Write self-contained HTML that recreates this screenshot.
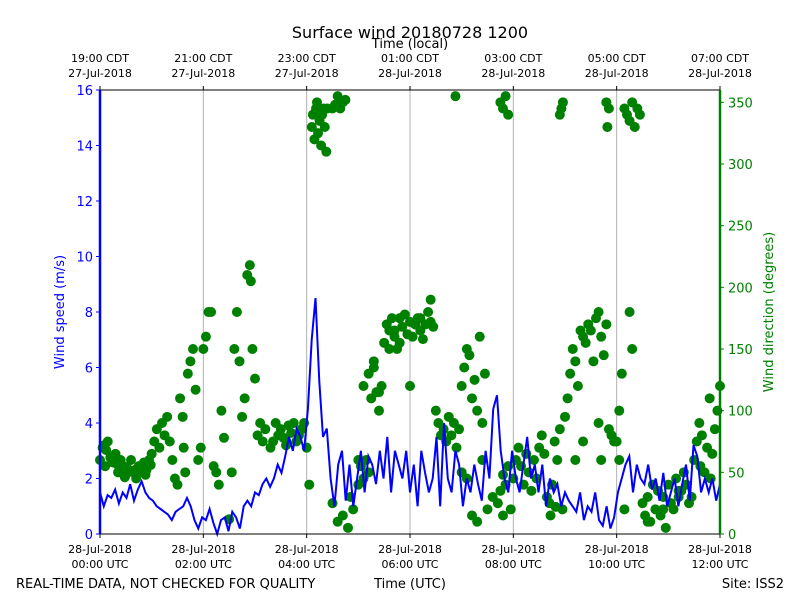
<!DOCTYPE html>
<html><head><meta charset="utf-8"><style>
body{margin:0;background:#fff;}
svg{display:block;font-family:"DejaVu Sans","Liberation Sans",sans-serif;}
</style></head><body>
<svg id="chart" width="800" height="600" xmlns="http://www.w3.org/2000/svg">
<text x="410" y="38" font-size="16" text-anchor="middle">Surface wind 20180728 1200</text>
<text x="410" y="48" font-size="13" text-anchor="middle">Time (local)</text>
<text x="0" y="0" font-size="13" fill="#0000ff" text-anchor="middle" transform="translate(64 312) rotate(-90)">Wind speed (m/s)</text>
<text x="0" y="0" font-size="13" fill="#008000" text-anchor="middle" transform="translate(773 312) rotate(-90)">Wind direction (degrees)</text>
<text x="16" y="588" font-size="13">REAL-TIME DATA, NOT CHECKED FOR QUALITY</text>
<text x="410" y="588" font-size="13" text-anchor="middle">Time (UTC)</text>
<text x="784" y="588" font-size="13" text-anchor="end">Site: ISS2</text>
<g id="grid"></g><g id="dirs"></g><g id="speed"></g><g id="axes"></g>
</svg>
<script>
const speedVals=[1.5,1.0,1.4,1.3,1.6,1.1,1.5,1.3,1.8,1.2,1.6,1.9,1.5,1.3,1.2,1.0,0.9,0.8,0.7,0.5,0.8,0.9,1.0,1.3,1.0,
0.5,0.2,0.6,0.5,0.9,0.4,0.0,0.5,0.6,0.1,0.8,0.6,0.2,1.0,1.2,1.0,1.5,1.4,1.8,2.0,1.7,2.0,2.5,2.2,2.8,3.5,3.0,3.8,
3.5,3.0,4.5,7.0,8.5,5.5,3.5,3.8,2.0,1.0,2.5,3.0,1.2,2.5,1.0,2.0,3.0,1.5,2.8,2.5,1.8,3.0,2.0,3.5,1.5,3.0,2.5,2.0,
3.0,1.5,2.5,1.0,3.0,2.2,1.5,2.0,3.5,1.0,4.0,2.0,1.5,3.0,2.5,1.0,2.0,1.5,2.5,1.8,1.2,3.0,2.0,4.5,5.0,3.0,2.0,1.5,
3.0,2.0,1.5,2.5,3.5,2.0,2.5,1.5,2.5,1.0,2.0,1.5,1.8,1.0,1.5,1.2,1.0,0.8,1.5,0.5,1.0,0.8,1.5,0.5,0.3,1.0,0.2,0.6,
1.5,2.0,2.5,2.8,1.5,2.5,2.0,1.8,2.5,1.6,2.0,1.2,2.2,1.0,1.5,2.0,1.0,1.8,2.5,1.2,3.2,2.8,1.5,2.0,1.5,2.0,1.2,1.8];
const dirHour=[0,.05,.1,.15,.2,.25,.3,.35,.4,.45,
.5,.55,.6,.65,.7,.75,.8,.85,.9,.95,
.12,.32,.52,.72,.08,.28,.48,.68,.88,.98,
1.0,1.05,1.1,1.15,1.2,1.25,1.3,1.35,1.4,1.45,
1.5,1.55,1.6,1.62,1.65,1.7,1.75,1.8,1.85,1.9,
1.95,2.0,2.05,2.1,2.15,2.2,2.25,2.3,2.35,2.4,
2.5,2.55,2.6,2.65,2.7,2.75,2.8,2.85,2.9,2.92,
2.95,3.0,3.05,3.1,3.15,3.2,3.3,3.35,3.4,3.45,
3.5,3.55,3.6,3.65,3.7,3.75,3.8,3.85,3.9,3.95,
4.0,4.05,4.1,4.12,4.15,4.18,4.2,4.22,4.25,4.28,
4.3,4.33,4.35,4.38,4.4,4.5,4.55,4.6,4.65,4.7,
4.75,4.5,4.6,4.7,4.8,4.85,4.9,5.0,5.05,5.1,
5.15,5.2,5.25,5.3,5.35,5.4,5.45,5.0,5.1,5.2,
5.3,5.4,5.5,5.55,5.6,5.65,5.7,5.75,5.8,5.85,
5.9,5.95,6.0,6.05,6.1,6.15,6.2,6.25,6.3,6.35,
6.4,6.45,5.6,5.8,6.0,6.2,6.4,5.7,6.1,6.5,
6.55,6.6,6.65,6.7,6.75,6.8,6.85,6.9,6.95,6.88,
7.0,7.05,7.1,7.15,7.2,7.25,7.3,7.35,7.4,7.45,
7.0,7.1,7.2,7.3,7.4,7.5,7.75,7.8,7.85,7.9,
7.75,7.8,7.6,7.7,7.8,7.85,7.9,7.95,8.0,8.05,
8.1,8.15,8.2,8.25,8.3,8.35,8.4,8.45,8.5,8.55,
8.6,8.65,8.7,8.75,8.8,8.85,8.9,8.95,8.72,8.82,
9.0,9.05,9.1,9.15,9.2,9.25,9.3,9.35,9.4,9.45,
9.5,9.55,9.6,9.65,9.7,9.75,9.8,9.85,9.9,9.95,
8.9,8.93,8.96,9.8,9.85,9.82,9.35,9.65,9.2,9.7,
10.0,10.05,10.1,10.15,10.2,10.25,10.3,10.35,10.4,10.45,
10.05,10.15,10.25,10.3,10.5,10.55,10.6,10.65,10.7,10.75,
10.8,10.85,10.9,10.95,11.0,11.05,11.1,11.15,11.2,11.25,
11.3,11.35,11.4,11.45,10.6,10.9,11.2,11.5,11.55,11.6,
11.65,11.7,11.75,11.8,11.85,11.9,11.95,12.0,11.62,11.82];
const dirDeg=[60,70,55,75,62,58,65,50,60,55,
48,52,60,50,45,55,50,58,52,60,
68,57,54,50,72,62,46,52,48,56,
65,75,85,70,90,80,95,75,60,45,
40,110,95,70,50,130,140,150,117,60,
70,150,160,180,180,55,50,40,100,78,
12,50,150,180,140,95,110,210,218,205,
150,126,80,90,75,85,70,75,90,80,
85,78,72,88,82,90,75,80,85,90,
70,40,330,340,320,345,350,325,335,315,
340,345,330,310,345,345,348,355,345,350,
352,25,10,15,5,30,20,40,55,120,
60,130,110,140,115,100,120,60,45,50,
135,115,155,170,165,175,160,150,175,168,
178,162,172,160,170,175,165,158,170,180,
172,168,150,155,120,175,190,165,170,100,
90,80,85,75,95,80,90,70,85,355,
120,135,150,145,110,125,100,160,90,130,
50,45,15,10,60,20,350,345,355,340,
35,48,30,25,15,40,55,20,45,60,
70,55,40,65,50,35,60,45,70,80,
65,30,25,40,75,60,85,20,15,22,
95,110,130,150,140,120,165,160,155,170,
165,140,175,180,160,145,170,85,80,75,
340,345,350,350,345,330,75,90,60,60,
75,100,130,345,340,335,350,330,345,340,
60,20,180,150,25,15,30,10,40,20,
35,15,30,5,40,25,20,45,30,35,
50,40,25,30,10,20,35,60,75,90,
80,50,70,110,65,85,100,120,55,45];
const leftTicks=[0,2,4,6,8,10,12,14,16];
const rightTicks=[0,50,100,150,200,250,300,350];
const bottomLabels=[["28-Jul-2018","00:00 UTC"],["28-Jul-2018","02:00 UTC"],["28-Jul-2018","04:00 UTC"],["28-Jul-2018","06:00 UTC"],["28-Jul-2018","08:00 UTC"],["28-Jul-2018","10:00 UTC"],["28-Jul-2018","12:00 UTC"]];
const topLabels=[["19:00 CDT","27-Jul-2018"],["21:00 CDT","27-Jul-2018"],["23:00 CDT","27-Jul-2018"],["01:00 CDT","28-Jul-2018"],["03:00 CDT","28-Jul-2018"],["05:00 CDT","28-Jul-2018"],["07:00 CDT","28-Jul-2018"]];
const X0=100,X1=720,Y0=534,Y1=90;
const xs=h=>X0+(X1-X0)*h/12;
const ySp=v=>Y0-(Y0-Y1)*v/16;
const yDir=d=>Y0-(Y0-Y1)*d/360;
const NS="http://www.w3.org/2000/svg";
function mk(tag,attrs,parent,txt){const e=document.createElementNS(NS,tag);for(const k in attrs)e.setAttribute(k,attrs[k]);if(txt!==undefined)e.textContent=txt;document.getElementById(parent).appendChild(e);return e;}
bottomLabels.forEach((l,i)=>{const x=xs(i*2);
 if(i>0&&i<6){const g=mk('line',{x1:x,x2:x,y1:Y1,y2:Y0,stroke:'#b0b0b0','stroke-width':1},'grid');
 
 }
 const t1=mk('text',{x:x,y:553,'font-size':11,'text-anchor':'middle'},'axes',l[0]);
 
 
 const t2=mk('text',{x:x,y:568,'font-size':11,'text-anchor':'middle'},'axes',l[1]);
 
 
 mk('line',{x1:x,x2:x,y1:Y0,y2:Y0+4,stroke:'#000'},'axes');
 mk('line',{x1:x,x2:x,y1:Y1,y2:Y1-4,stroke:'#000'},'axes');
 const t3=mk('text',{x:x,y:62,'font-size':11,'text-anchor':'middle'},'axes',topLabels[i][0]);
 
 
 const t4=mk('text',{x:x,y:77,'font-size':11,'text-anchor':'middle'},'axes',topLabels[i][1]);
 
 
});
dirHour.forEach((h,i)=>{const c=mk('circle',{cx:xs(h),cy:yDir(dirDeg[i]),r:5,fill:'#008000'},'dirs');
 
 });
const n=speedVals.length;
const pts=speedVals.map((v,i)=>xs(12*i/(n-1)).toFixed(1)+','+ySp(v).toFixed(1)).join(' ');
const pl=mk('polyline',{points:pts,fill:'none',stroke:'#0000ff','stroke-width':2},'speed');


leftTicks.forEach(v=>{const y=ySp(v);mk('line',{x1:X0,x2:X0-4,y1:y,y2:y,stroke:'#0000ff'},'axes');
 const t=mk('text',{x:X0-7,y:y+5,'font-size':13,fill:'#0000ff','text-anchor':'end'},'axes',v);
 
 });
rightTicks.forEach(v=>{const y=yDir(v);mk('line',{x1:X1,x2:X1+4,y1:y,y2:y,stroke:'#008000'},'axes');
 const t=mk('text',{x:X1+8,y:y+5,'font-size':13,fill:'#008000'},'axes',v);
 
 });
mk('line',{x1:X0,x2:X1,y1:Y1,y2:Y1,stroke:'#000','stroke-width':1},'axes');
mk('line',{x1:X0,x2:X1,y1:Y0,y2:Y0,stroke:'#000','stroke-width':1},'axes');
mk('line',{x1:X0,x2:X0,y1:Y1,y2:Y0,stroke:'#0000ff','stroke-width':2.5},'axes');
mk('line',{x1:X1,x2:X1,y1:Y1,y2:Y0,stroke:'#008000','stroke-width':2.5},'axes');
</script>
</body></html>
